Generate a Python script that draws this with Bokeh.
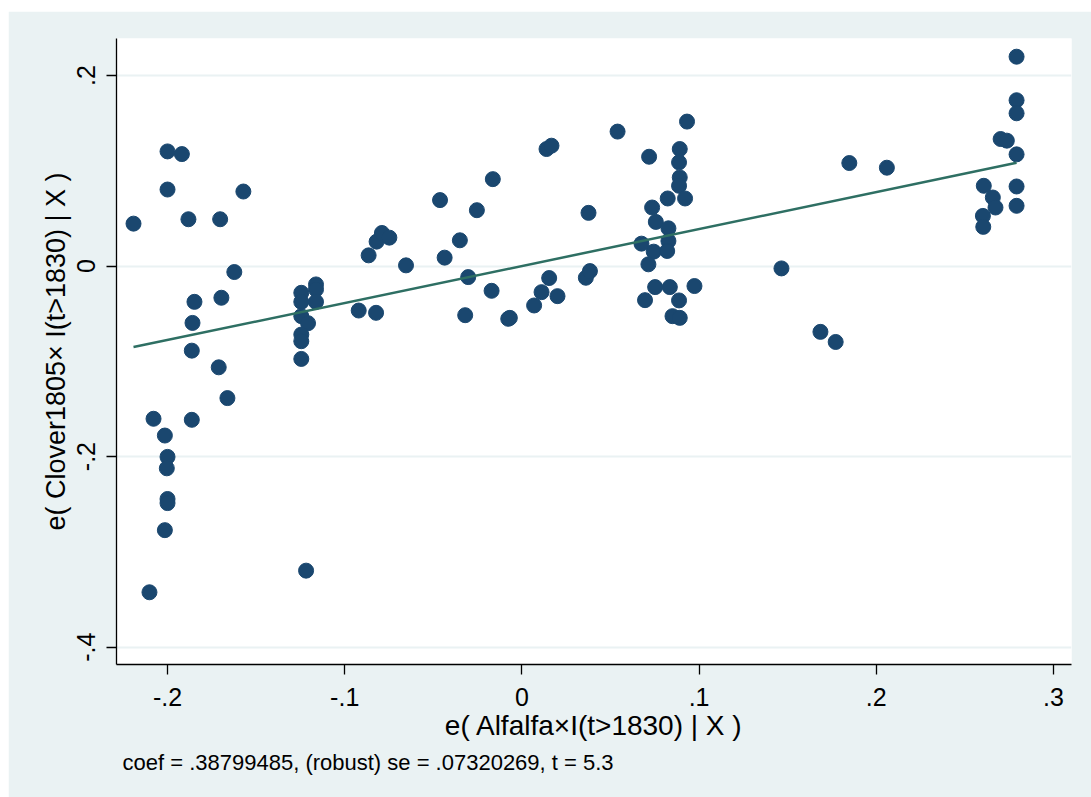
from bokeh.plotting import figure
from bokeh.models import Range1d, FixedTicker, CustomJSTickFormatter, Title
from bokeh.embed import file_html
from bokeh.resources import INLINE

# residuals of Alfalfa x I(t>1830) | X
x_resid = [
    -0.2192, -0.2000, -0.1919, -0.2000, -0.1572, -0.1882, -0.1703, -0.1623,
    -0.1848, -0.1696, -0.1859, -0.1863, -0.1711, -0.1662, -0.2079, -0.1863,
    -0.2015, -0.2000, -0.2004, -0.2000, -0.2000, -0.2015, -0.2102, -0.1218,
    -0.1245, -0.1245, -0.1162, -0.1162, -0.1162, -0.1245, -0.1207, -0.1245,
    -0.1245, -0.1245,
    -0.0921, -0.0823, -0.0865, -0.0820, -0.0790, -0.0748, -0.0654,
    -0.0462, -0.0254, -0.0164, -0.0350, -0.0436, -0.0303, -0.0171, -0.0320,
    -0.0077, -0.0068, 0.0069, 0.0111, 0.0201, 0.0154, 0.0139, 0.0167,
    0.0376, 0.0361, 0.0384, 0.0540,
    0.0718, 0.0932, 0.0891, 0.0887, 0.0891, 0.0887, 0.0823, 0.0921,
    0.0735, 0.0756, 0.0827, 0.0827, 0.0675, 0.0744, 0.0820, 0.0714,
    0.0695, 0.0752, 0.0835, 0.0974, 0.0887, 0.0850, 0.0891,
    0.1465, 0.1685, 0.1771, 0.1848, 0.2060,
    0.2792, 0.2792, 0.2792, 0.2702, 0.2737, 0.2792, 0.2607, 0.2792,
    0.2658, 0.2673, 0.2792, 0.2602, 0.2604,
]
# residuals of Clover1805 x I(t>1830) | X
y_resid = [
    0.0445, 0.1203, 0.1175, 0.0803, 0.0782, 0.0491, 0.0491, -0.0063,
    -0.0376, -0.0333, -0.0597, -0.0888, -0.1063, -0.1386, -0.1603, -0.1614,
    -0.1779, -0.2003, -0.2123, -0.2445, -0.2488, -0.2772, -0.3424, -0.3197,
    -0.0281, -0.0376, -0.0193, -0.0246, -0.0376, -0.0526, -0.0600, -0.0719,
    -0.0789, -0.0975,
    -0.0467, -0.0491, 0.0112, 0.0256, 0.0347, 0.0298, 0.0007,
    0.0692, 0.0586, 0.0912, 0.0270, 0.0088, -0.0116, -0.0260, -0.0516,
    -0.0554, -0.0544, -0.0414, -0.0274, -0.0316, -0.0126, 0.1228, 0.1263,
    0.0558, -0.0123, -0.0053, 0.1411,
    0.1147, 0.1516, 0.1228, 0.1088, 0.0930, 0.0842, 0.0709, 0.0709,
    0.0614, 0.0463, 0.0396, 0.0263, 0.0235, 0.0151, 0.0158, 0.0018,
    -0.0358, -0.0221, -0.0221, -0.0210, -0.0361, -0.0526, -0.0544,
    -0.0025, -0.0691, -0.0797, 0.1081, 0.1032,
    0.2197, 0.1740, 0.1603, 0.1333, 0.1316, 0.1172, 0.0842, 0.0835,
    0.0719, 0.0614, 0.0632, 0.0526, 0.0411,
]
coef = 0.38799485
x_ticks = [-0.2, -0.1, 0.0, 0.1, 0.2, 0.3]
y_ticks = [-0.4, -0.2, 0.0, 0.2]
x_title = "e( Alfalfa\u00d7I(t>1830) | X )"
y_title = "e( Clover1805\u00d7 I(t>1830) | X )"
note = "coef = .38799485, (robust) se = .07320269, t = 5.3"

BG = "#EAF2F3"
NAVY = "#1A476F"
LINE = "#2E6F63"
FONT = "Liberation Sans"

p = figure(width=1083, height=786, output_backend="svg", toolbar_location=None,
           x_range=Range1d(-0.2288, 0.3102), y_range=Range1d(-0.4182, 0.2388),
           min_border_left=108, min_border_right=20, min_border_top=27,
           min_border_bottom=133)
p.margin = (11, 0, 0, 8)
p.background_fill_color = "white"
p.border_fill_color = BG
p.outline_line_color = None

fmt = CustomJSTickFormatter(code="""
if (Math.abs(tick) < 1e-9) { return "0"; }
var s = tick.toFixed(1);
return s.replace("0.", ".");
""")

p.xaxis.ticker = FixedTicker(ticks=x_ticks)
p.yaxis.ticker = FixedTicker(ticks=y_ticks)
p.xaxis.formatter = fmt
p.yaxis.formatter = fmt
for ax in (p.xaxis, p.yaxis):
    ax.axis_line_color = "black"
    ax.axis_line_width = 1.3
    ax.major_tick_line_color = "black"
    ax.major_tick_line_width = 1.3
    ax.major_tick_out = 10
    ax.major_tick_in = 0
    ax.minor_tick_line_color = None
    ax.major_label_text_font = FONT
    ax.major_label_text_font_size = "25px"
    ax.major_label_text_color = "black"
    ax.axis_label_text_font = FONT
    ax.axis_label_text_font_style = "normal"
    ax.axis_label_text_color = "black"

p.xaxis.axis_label = x_title
p.yaxis.axis_label = y_title
p.xaxis.axis_label_text_font_size = "28px"
p.yaxis.axis_label_text_font_size = "27px"
p.xaxis.major_label_standoff = 13
p.xaxis.axis_label_standoff = 1
p.yaxis.major_label_standoff = 11
p.yaxis.axis_label_standoff = 4
p.yaxis.major_label_orientation = "vertical"

p.xgrid.grid_line_color = None
p.ygrid.grid_line_color = BG
p.ygrid.grid_line_width = 2

p.scatter(x_resid, y_resid, size=15, color=NAVY, line_color=NAVY)

x_lo, x_hi = min(x_resid), max(x_resid)
p.line([x_lo, x_hi], [coef * x_lo, coef * x_hi], line_color=LINE, line_width=2.5)

p.add_layout(Title(text=note, align="left", offset=6, text_font=FONT,
                   text_font_size="22px", text_font_style="normal",
                   text_color="black", standoff=9), "below")

open("out.html", "w").write(file_html(p, INLINE))
